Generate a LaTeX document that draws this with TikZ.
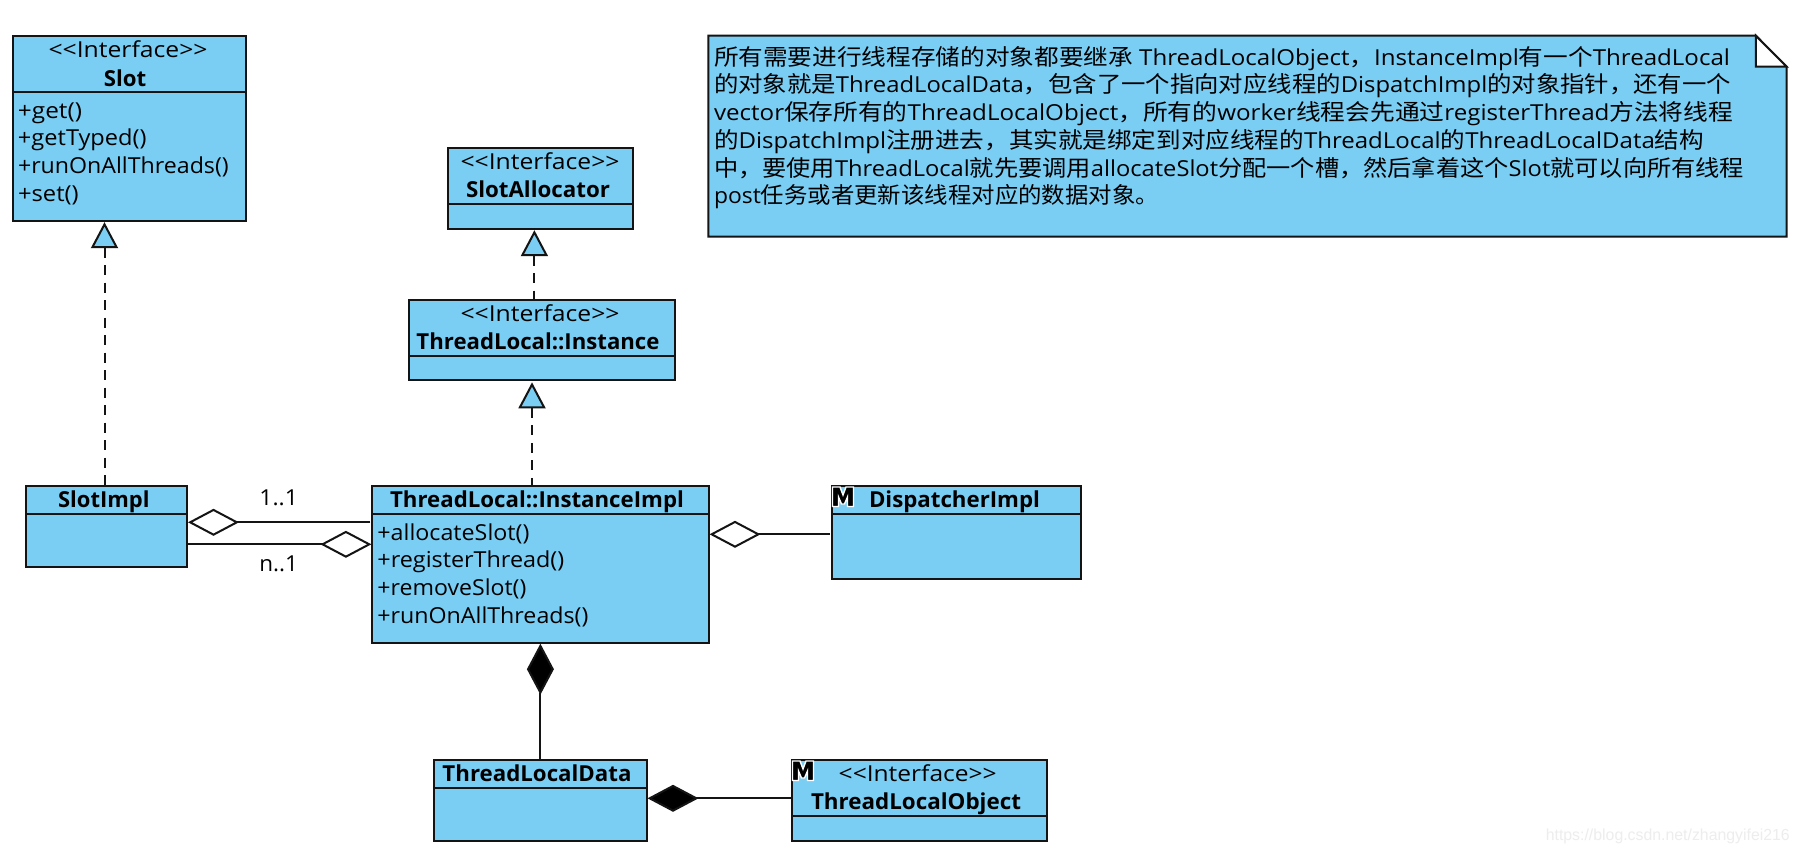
\documentclass[tikz,border=0pt]{standalone}
\usepackage{fontspec}
\usepackage{graphicx}
\usetikzlibrary{arrows.meta}
\setmainfont{Open Sans}
\newfontfamily\cjk{Noto Sans CJK SC}
\newcommand\zh[1]{{\cjk\fontsize{22.5}{27}\selectfont #1}}
\newcommand\stereo{<{}<Interface>{}>}
\definecolor{boxblue}{HTML}{7ACEF4}
\definecolor{ink}{HTML}{141414}
\newcommand\lbl[7]{\node[#1,anchor=#3] (#2) at (#4,#5) {\resizebox{#6pt}{\height}{#7}};}
\newcommand\umlbox[6]{%
  \node[umlbox,minimum width={(#4-#2)*1pt},minimum height={(#5-#3)*1pt}] (#1) at ({(#2+#4)/2},{(#3+#5)/2}) {};
  \ifx\relax#6\relax\else\draw[boxline] (#2,#6) -- (#4,#6);\fi}
\newcommand\micon[2]{%
  \path[fill=black,draw=white,line width=1.4pt,line join=miter,shift={(#1,#2)}]
    (1.5,2)--(9,2)--(12,10)--(15,2)--(22.5,2)--(22.5,21.5)--(16.5,21.5)--(16.5,12)--(13.5,19)--(10.5,19)--(7.5,12)--(7.5,21.5)--(1.5,21.5)--cycle;}
\tikzset{
  umlbox/.style={draw=ink,fill=boxblue,line width=2pt,inner sep=0pt,outer sep=0pt},
  boxline/.style={draw=ink,line width=2pt},
  plain/.style={inner sep=0pt,outer sep=0pt,text=black,font=\fontsize{22}{27}\selectfont},
  strong/.style={plain,font=\fontsize{22}{27}\selectfont\bfseries},
  realize/.style={draw=ink,line width=2pt,dash pattern=on 10pt off 7.5pt,
    {Triangle[length=26pt,width=27pt,fill=boxblue]}-},
  linkline/.style={draw=ink,line width=2pt},
  aggr/.style={linkline,-{Diamond[length=51pt,width=27pt,fill=white]},shorten >=1pt},
  compo/.style={linkline,-{Diamond[length=51pt,width=27pt,fill=black]},shorten >=1pt},
}
\begin{document}
\begin{tikzpicture}[x=1pt,y=-1pt]
\useasboundingbox[fill=white] (0,0) rectangle (1800,854);

% note
\draw[fill=boxblue,draw=ink,line width=2pt] (708.4,35.7)--(1755.8,35.7)--(1786.6,66.7)--(1786.6,236.7)--(708.4,236.7)--cycle;
\draw[fill=white,draw=ink,line width=2pt] (1755.8,35.7)--(1755.8,66.7)--(1786.6,66.7)--cycle;
\lbl{plain}{noteA}{base west}{714}{65}{1016}{\zh{所有需要进行线程存储的对象都要继承} ThreadLocalObject\zh{，}InstanceImpl\zh{有一个}ThreadLocal}
\lbl{plain}{noteB}{base west}{714}{92.7}{1017}{\zh{的对象就是}ThreadLocalData\zh{，包含了一个指向对应线程的}DispatchImpl\zh{的对象指针，还有一个}}
\lbl{plain}{noteC}{base west}{714}{120.4}{1019}{vector\zh{保存所有的}ThreadLocalObject\zh{，所有的}worker\zh{线程会先通过}registerThread\zh{方法将线程}}
\lbl{plain}{noteD}{base west}{714}{148}{990}{\zh{的}DispatchImpl\zh{注册进去，其实就是绑定到对应线程的}ThreadLocal\zh{的}ThreadLocalData\zh{结构}}
\lbl{plain}{noteE}{base west}{714}{176}{1030}{\zh{中，要使用}ThreadLocal\zh{就先要调用}allocateSlot\zh{分配一个槽，然后拿着这个}Slot\zh{就可以向所有线程}}
\lbl{plain}{noteF}{base west}{714}{203.5}{445}{post\zh{任务或者更新该线程对应的数据对象。}}

% classes
\umlbox{slot}{12.5}{36}{246.4}{220.7}{92}
\lbl{plain}{slotS}{base}{128}{57.3}{159}{\stereo}
\lbl{strong}{slotN}{base}{125}{86}{42.4}{Slot}
\lbl{plain}{slotA}{base west}{18}{118}{64}{+get()}
\lbl{plain}{slotB}{base west}{18}{145.7}{128.6}{+getTyped()}
\lbl{plain}{slotC}{base west}{18}{173.4}{210.7}{+runOnAllThreads()}
\lbl{plain}{slotD}{base west}{18}{201}{60.7}{+set()}

\umlbox{alloc}{448}{148}{632.6}{228.7}{204}
\lbl{plain}{allocS}{base}{540}{169.3}{159}{\stereo}
\lbl{strong}{allocN}{base}{538}{197.7}{144}{SlotAllocator}

\umlbox{inst}{408.5}{300.3}{674.5}{380.3}{356.3}
\lbl{plain}{instS}{base}{540}{321.7}{159}{\stereo}
\lbl{strong}{instN}{base}{538}{349.3}{243}{ThreadLocal::Instance}

\umlbox{simpl}{26}{486}{187}{566.7}{514}
\lbl{strong}{simplN}{base}{103.8}{507.3}{91.4}{SlotImpl}

\umlbox{impl}{372.4}{486}{708.5}{642.7}{514}
\lbl{strong}{implN}{base}{537}{507.3}{293.8}{ThreadLocal::InstanceImpl}
\lbl{plain}{implA}{base west}{377.4}{540}{152}{+allocateSlot()}
\lbl{plain}{implB}{base west}{377.4}{567.7}{186.9}{+registerThread()}
\lbl{plain}{implC}{base west}{377.4}{595.4}{149}{+removeSlot()}
\lbl{plain}{implD}{base west}{377.4}{623}{211}{+runOnAllThreads()}

\umlbox{disp}{832}{486}{1081}{578.7}{514}
\lbl{strong}{dispN}{base}{954.5}{507.3}{171}{DispatcherImpl}
\micon{831}{485}

\umlbox{data}{434}{760}{646.5}{840.7}{788}
\lbl{strong}{dataN}{base}{537}{781.7}{189}{ThreadLocalData}

\umlbox{tlo}{792}{760}{1047}{840.7}{816.3}
\lbl{plain}{tloS}{base}{917.7}{781.7}{158}{\stereo}
\lbl{strong}{tloN}{base}{916}{809.3}{210}{ThreadLocalObject}
\micon{791}{759}

% connectors
\draw[realize] ([yshift=-1.5pt]slot.south -| 104.5,0) -- (simpl.north -| 104.5,0);
\draw[realize] ([yshift=-1.5pt]alloc.south -| 534.4,0) -- (inst.north -| 534.4,0);
\draw[realize] ([yshift=-2pt]inst.south -| 532,0) -- (impl.north -| 532,0);
\draw[aggr,shorten <=2pt] (impl.west |- 0,522.3) -- (simpl.east |- 0,522.3);
\draw[aggr] (simpl.east |- 0,544.3) -- (impl.west |- 0,544.3);
\draw[aggr,shorten <=2pt] (disp.west |- 0,534.3) -- (impl.east |- 0,534.3);
\draw[compo] (data.north -| 540.4,0) -- (impl.south -| 540.4,0);
\draw[compo,shorten <=1.5pt] (tlo.west |- 0,798.3) -- (data.east |- 0,798.3);

\lbl{plain}{mulA}{base}{278.7}{505.7}{38.6}{1..1}
\lbl{plain}{mulB}{base}{278.7}{571.7}{38.6}{n..1}

\node[inner sep=0pt,anchor=base east,text=black!7,font=\fontsize{16}{19}\selectfont] (mark) at (1790,840) {\resizebox{244pt}{\height}{\fontspec{Liberation Sans}https://blog.csdn.net/zhangyifei216}};
\end{tikzpicture}
\end{document}
